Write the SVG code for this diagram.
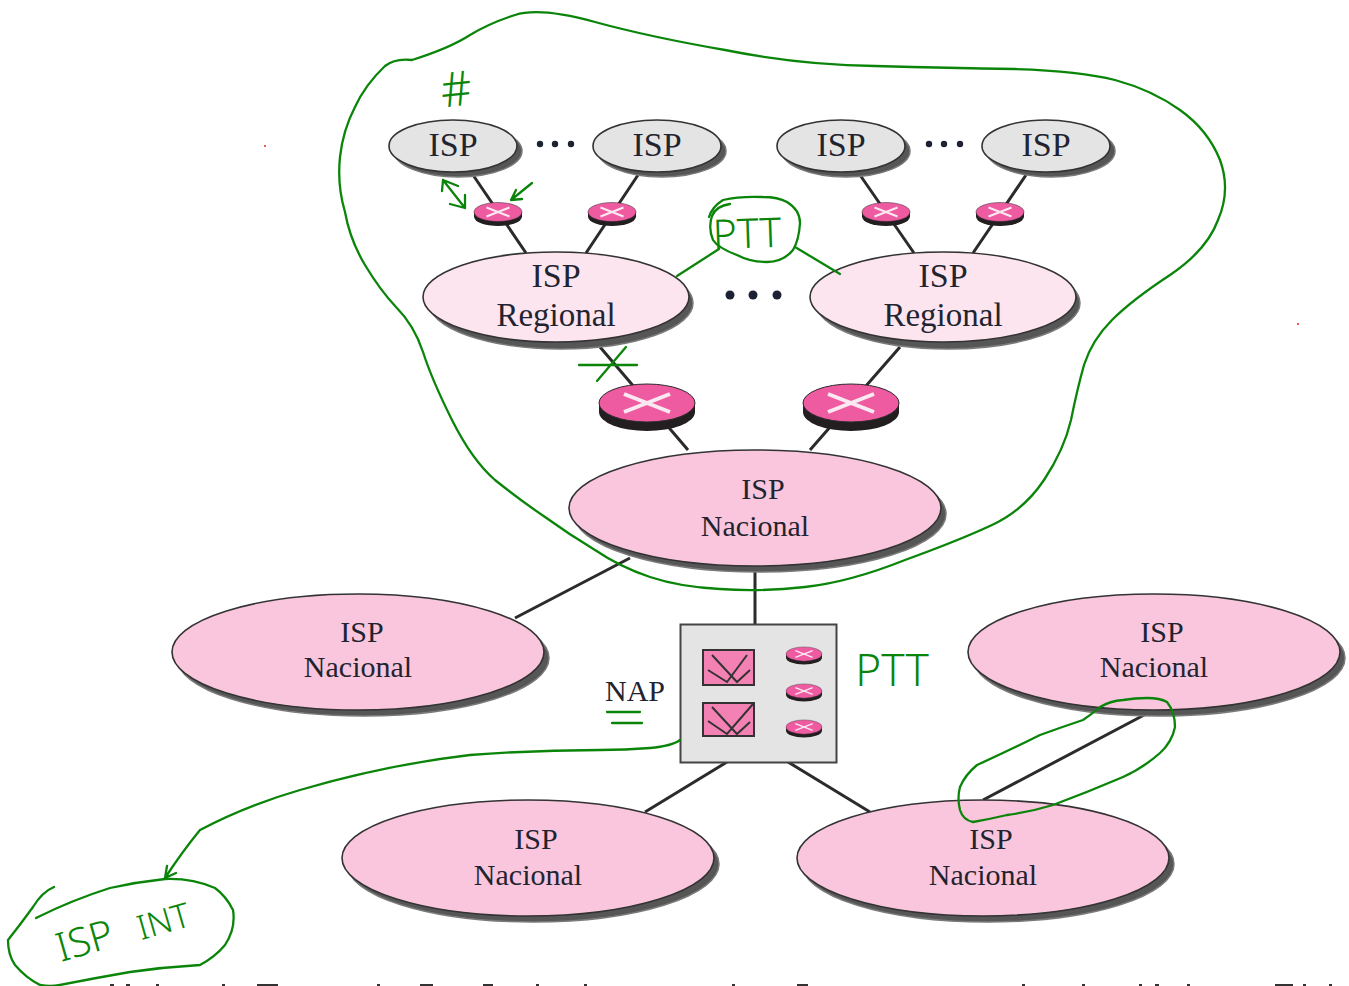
<svg xmlns="http://www.w3.org/2000/svg" width="1349" height="986" viewBox="0 0 1349 986">
<style>
text{font-family:"Liberation Serif","Times New Roman",serif;fill:#1f2430;text-anchor:middle}
.s34{font-size:34px}.s33{font-size:33px}.s30{font-size:30px}
.shadow{fill:#565656;stroke:#7a7a7a;stroke-width:1.500}
.gray{fill:#e4e4e4;stroke:#333;stroke-width:1.600}
.light{fill:#fde5f0;stroke:#333;stroke-width:1.600}
.pink{fill:#f9c6dd;stroke:#333;stroke-width:1.600}
.link{stroke:#2b2b2b;stroke-width:3;fill:none}
.ink{stroke:#0a850a;stroke-width:2.300;fill:none;stroke-linecap:round;stroke-linejoin:round}
.hand{font-family:"Noto Sans","Liberation Sans",sans-serif;font-weight:300;fill:#0a850a}
.dot{fill:#1c2233}
.inner{stroke:#333;stroke-width:2;fill:none}
</style>
<defs>
<g id="router">
<path d="M-48,0V9A48,19 0 0 0 48,9V0Z" fill="#231f20"/>
<ellipse rx="48" ry="19" fill="#ef5ba1" stroke="#2b2b2b" stroke-width="1"/>
<path d="M-23,-9L23,9M-23,9L23,-9" stroke="#fbe9f2" stroke-width="4" fill="none"/>
</g>
</defs>

<g id="connectors">
<path class="link" d="M473,175L526,253M638,175L586,253M860,175L914,253M1026,175L973,253"/>
<path class="link" d="M600,347L688,450M900,347L810,450"/>
<path class="link" d="M755,570V625M630,558L515,618M727,762L645,812M788,762L870,812M1146,714L983,800"/>
</g>

<g id="isp1"><ellipse class="shadow" cx="458" cy="151" rx="64" ry="26"/><ellipse class="gray" cx="453" cy="146" rx="64" ry="26"/><text class="s34" x="453" y="156">ISP</text></g>
<g id="isp2"><ellipse class="shadow" cx="662" cy="151" rx="64" ry="26"/><ellipse class="gray" cx="657" cy="146" rx="64" ry="26"/><text class="s34" x="657" y="156">ISP</text></g>
<g id="isp3"><ellipse class="shadow" cx="846" cy="151" rx="64" ry="26"/><ellipse class="gray" cx="841" cy="146" rx="64" ry="26"/><text class="s34" x="841" y="156">ISP</text></g>
<g id="isp4"><ellipse class="shadow" cx="1051" cy="151" rx="64" ry="26"/><ellipse class="gray" cx="1046" cy="146" rx="64" ry="26"/><text class="s34" x="1046" y="156">ISP</text></g>

<g id="dots">
<circle class="dot" cx="540" cy="144" r="3.200"/><circle class="dot" cx="555" cy="144" r="3.200"/><circle class="dot" cx="571" cy="144" r="3.200"/>
<circle class="dot" cx="929" cy="144" r="3.200"/><circle class="dot" cx="944" cy="144" r="3.200"/><circle class="dot" cx="960" cy="144" r="3.200"/>
<circle class="dot" cx="730" cy="295" r="4.500"/><circle class="dot" cx="753" cy="295" r="4.500"/><circle class="dot" cx="777" cy="295" r="4.500"/>
</g>

<g id="router-s1"><use href="#router" transform="translate(498,212) scale(.5)"/></g>
<g id="router-s2"><use href="#router" transform="translate(612,212) scale(.5)"/></g>
<g id="router-s3"><use href="#router" transform="translate(886,212) scale(.5)"/></g>
<g id="router-s4"><use href="#router" transform="translate(1000,212) scale(.5)"/></g>

<g id="regional1"><ellipse class="shadow" cx="561" cy="303" rx="132" ry="46"/><ellipse class="light" cx="556" cy="297" rx="133" ry="45"/><text class="s34" x="556" y="287">ISP</text><text class="s33" x="556" y="326">Regional</text></g>
<g id="regional2"><ellipse class="shadow" cx="948" cy="303" rx="132" ry="46"/><ellipse class="light" cx="943" cy="297" rx="133" ry="45"/><text class="s34" x="943" y="287">ISP</text><text class="s33" x="943" y="326">Regional</text></g>

<g id="router-b1"><use href="#router" transform="translate(647,403)"/></g>
<g id="router-b2"><use href="#router" transform="translate(851,403)"/></g>

<g id="nacional-top"><ellipse class="shadow" cx="760" cy="514" rx="186" ry="58"/><ellipse class="pink" cx="755" cy="508" rx="186" ry="58"/><text class="s30" x="763" y="499">ISP</text><text class="s30" x="755" y="536">Nacional</text></g>
<g id="nacional-left"><ellipse class="shadow" cx="363" cy="658" rx="186" ry="58"/><ellipse class="pink" cx="358" cy="652" rx="186" ry="58"/><text class="s30" x="362" y="642">ISP</text><text class="s30" x="358" y="677">Nacional</text></g>
<g id="nacional-right"><ellipse class="shadow" cx="1159" cy="658" rx="186" ry="58"/><ellipse class="pink" cx="1154" cy="652" rx="186" ry="58"/><text class="s30" x="1162" y="642">ISP</text><text class="s30" x="1154" y="677">Nacional</text></g>
<g id="nacional-bl"><ellipse class="shadow" cx="533" cy="864" rx="186" ry="58"/><ellipse class="pink" cx="528" cy="858" rx="186" ry="58"/><text class="s30" x="536" y="849">ISP</text><text class="s30" x="528" y="885">Nacional</text></g>
<g id="nacional-br"><ellipse class="shadow" cx="988" cy="864" rx="186" ry="58"/><ellipse class="pink" cx="983" cy="858" rx="186" ry="58"/><text class="s30" x="991" y="849">ISP</text><text class="s30" x="983" y="885">Nacional</text></g>

<g id="nap">
<rect x="680.500" y="624.500" width="156" height="138" fill="#e4e4e4" stroke="#444" stroke-width="2"/>
<rect x="703" y="650" width="51" height="35" fill="#f481b3" stroke="#333" stroke-width="2"/>
<rect x="703" y="703" width="51" height="33" fill="#f481b3" stroke="#333" stroke-width="2"/>
<path class="inner" d="M712,655L737,682L750,670M747,655L727,682L708,670"/>
<path class="inner" d="M712,707L737,734L750,722M753,704L727,734L708,721"/>
<use href="#router" transform="translate(804,654) scale(.375)"/>
<use href="#router" transform="translate(804,691) scale(.375)"/>
<use href="#router" transform="translate(804,727) scale(.375)"/>
<text class="s30" x="635" y="701">NAP</text>
</g>

<g id="annotations">
<path class="ink" d="M412,60Q395,58 385,66Q365,85 355,107Q343,130 340,157Q337,185 345,212Q350,240 365,265Q380,290 396,307Q414,325 423,352Q432,380 452,420Q472,460 495,480Q520,500 545,517Q570,535 595,550Q620,567 650,577Q680,587 720,589Q760,592 805,587Q850,582 905,560Q960,540 992,525Q1024,510 1044,480Q1064,450 1071,420Q1077,390 1084,365Q1092,340 1112,320Q1132,300 1170,275Q1207,250 1218,220Q1231,190 1220,160Q1208,130 1180,110Q1152,90 1115,80Q1080,71 1015,69Q950,68 875,66Q800,65 725,50Q650,37 595,22Q540,7 515,15Q490,23 470,35Q450,48 412,60"/>
<text class="hand" x="456" y="106" font-size="48" transform="rotate(-6 456 88)">#</text>
<path class="ink" d="M443,180L465,208M443,180L442,191M443,180L458,186M465,208L450,204M465,208L465,195"/>
<path class="ink" d="M532,183L511,200M511,200L522,199M511,200L516,190"/>
<path class="ink" d="M709,217Q712,207 723,200Q740,196 763,197Q778,197 787,202Q800,210 800,223Q799,240 793,250Q783,262 767,262Q750,262 737,255Q718,248 713,240Q708,228 712,216Q716,206 730,204"/>
<path class="ink" d="M719,249L677,276M795,247L840,274"/>
<text class="hand" x="747" y="248" font-size="41" transform="rotate(-2 746 232)">PTT</text>
<path class="ink" d="M579,365H637M597,381L626,347"/>
<text class="hand" x="892" y="686" font-size="44">PTT</text>
<path class="ink" d="M607,712H640M612,723H642"/>
<path class="ink" d="M1100,707Q1110,701 1123,700Q1135,698 1147,698Q1160,698 1167,702Q1175,712 1175,727Q1172,742 1160,753Q1143,768 1123,777Q1088,792 1053,805Q1030,812 1007,815Q990,819 973,822Q963,820 960,810Q957,798 960,787Q965,775 977,765Q1010,750 1040,735Q1062,727 1083,720Q1092,714 1100,707"/>
<path class="ink" d="M680,740Q672,746 650,748Q625,750 600,750Q535,750 470,755Q385,765 300,790Q245,806 200,830Q182,852 165,878M165,878L167,866M165,878L176,873"/>
<path class="ink" d="M54,887Q42,892 33,907Q20,925 8,940Q8,955 15,965Q26,978 40,985Q50,987 60,985Q95,978 130,972Q165,967 200,965Q215,957 225,945Q236,928 233,910Q226,896 215,888Q192,878 165,879Q137,882 110,888Q72,900 36,918"/>
<text class="hand" x="83" y="955" font-size="40" transform="rotate(-16 82 935)">ISP</text>
<text class="hand" x="163" y="933" font-size="34" transform="rotate(-16 164 920)">INT</text>
</g>

<g id="cropped-line-tops" fill="#333">
<rect x="110" y="984" width="4" height="2"/><rect x="126" y="984" width="4" height="2"/><rect x="156" y="984" width="3" height="2"/><rect x="222" y="984" width="3" height="2"/><rect x="257" y="984" width="21" height="2"/><rect x="377" y="984" width="3" height="2"/><rect x="420" y="984" width="13" height="2"/><rect x="483" y="984" width="10" height="2"/><rect x="536" y="984" width="3" height="2"/><rect x="584" y="984" width="3" height="2"/><rect x="732" y="984" width="3" height="2"/><rect x="797" y="984" width="11" height="2"/><rect x="1022" y="984" width="3" height="2"/><rect x="1082" y="984" width="3" height="2"/><rect x="1139" y="984" width="3" height="2"/><rect x="1155" y="984" width="4" height="2"/><rect x="1187" y="984" width="3" height="2"/><rect x="1275" y="984" width="18" height="2"/><rect x="1303" y="984" width="3" height="2"/><rect x="1329" y="984" width="3" height="2"/>
</g>
<circle cx="265" cy="146" r="1" fill="#e8202a"/>
<circle cx="1298" cy="324" r="1" fill="#e8202a"/>
</svg>
